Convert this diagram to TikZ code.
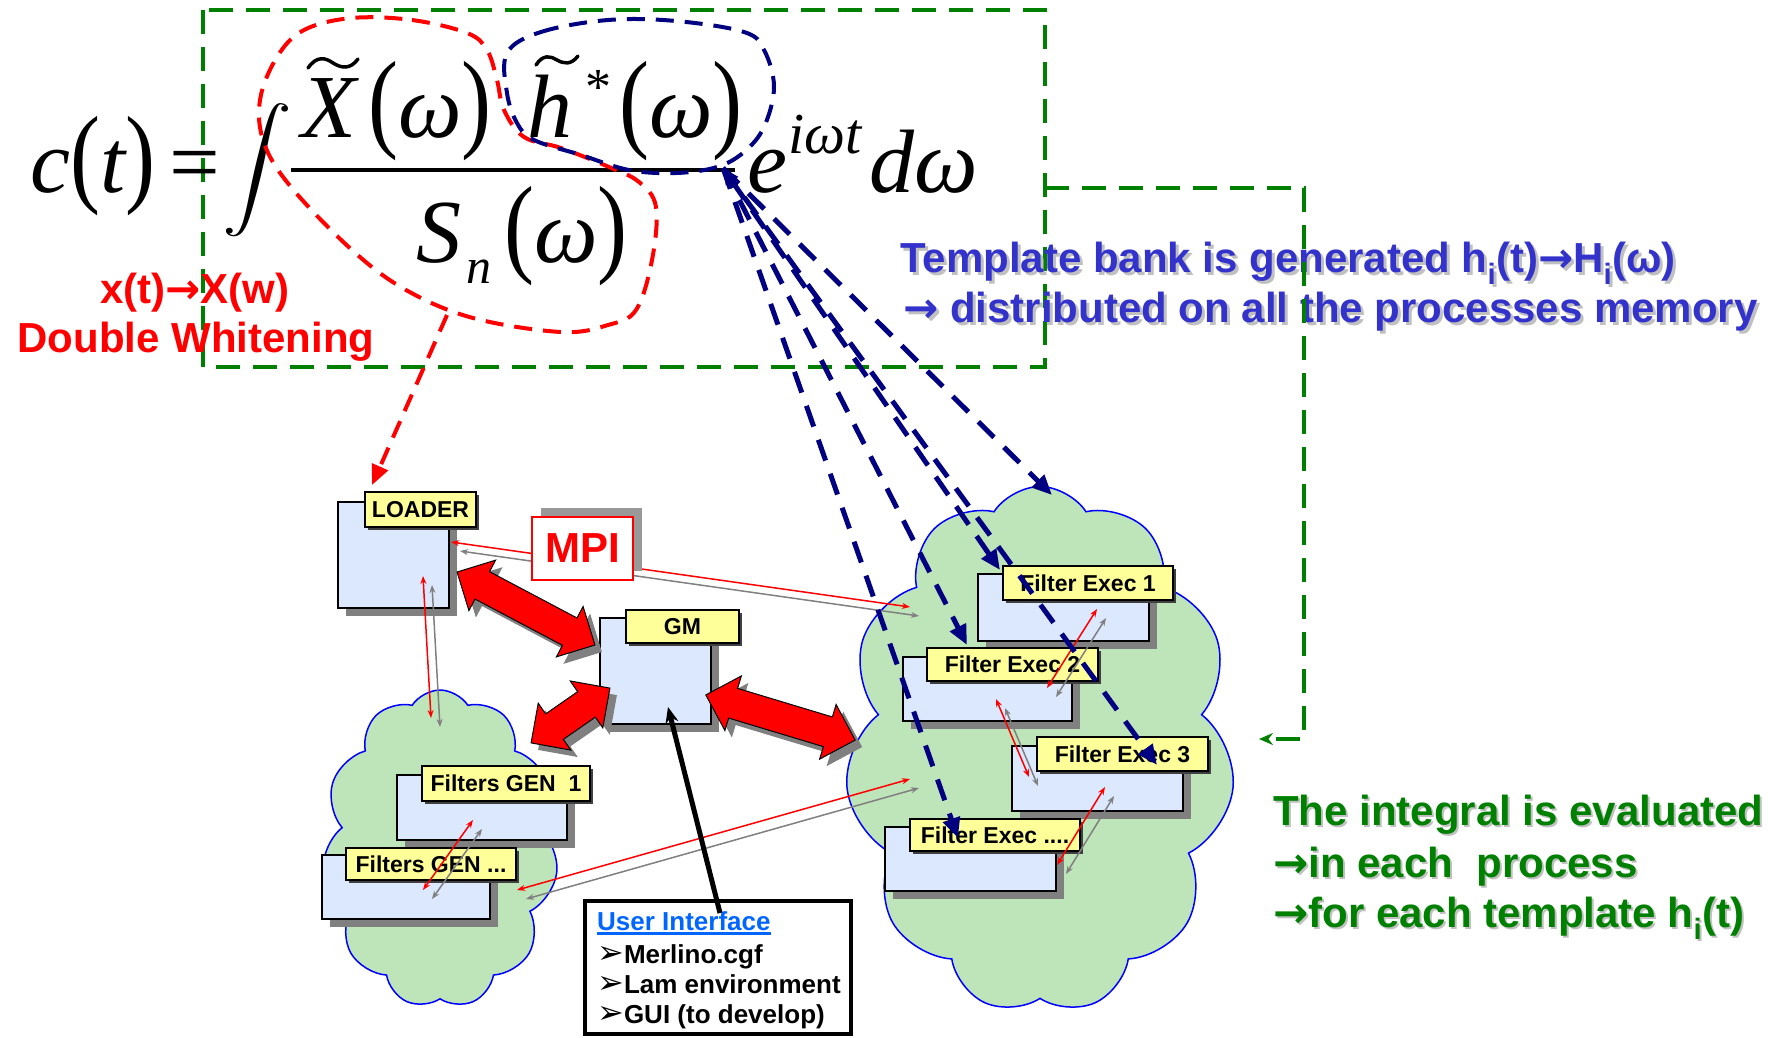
\documentclass[tikz,border=0pt]{standalone}
\usepackage{graphicx}
\usepackage{fontspec}
\setmainfont{Liberation Sans}
\newfontfamily\eqfont{Liberation Serif}
\newfontfamily\dingfont{DejaVu Sans}
\usetikzlibrary{arrows.meta,shapes.symbols,shapes.arrows,shadows}

\definecolor{procblue}{RGB}{219,232,253}
\definecolor{tagyellow}{RGB}{255,255,153}
\definecolor{cloudgreen}{RGB}{190,228,186}
\definecolor{bankblue}{RGB}{0,0,128}
\definecolor{framegreen}{RGB}{0,128,0}
\definecolor{tmplblue}{RGB}{51,51,204}
\definecolor{uiblue}{RGB}{0,102,255}
\definecolor{shgray}{RGB}{128,128,128}
\definecolor{txtshadow}{RGB}{192,192,192}

\newcommand{\lpar}{{\upshape\scalebox{1}[1.22]{(}}}
\newcommand{\rpar}{{\upshape\scalebox{1}[1.22]{)}}}
\newcommand{\thickul}[1]{\vtop{\hbox{#1}\kern2pt\hrule height 2.5pt}}
\newcommand{\rarr}{{\dingfont\bfseries →}}
\newcommand{\uibullet}{{\dingfont\fontsize{32}{30}\selectfont ➢}}

\tikzset{
  eqtext/.style={font=\eqfont\itshape\fontsize{90}{90}\selectfont, inner sep=0pt, anchor=base west},
  bigtext/.style={font=\bfseries\fontsize{42}{48}\selectfont, inner sep=0pt},
  procbox/.style={draw=black, line width=1.2pt, fill=procblue, inner sep=0pt,
    drop shadow={shadow xshift=8pt, shadow yshift=-8pt, fill=shgray, opacity=1}},
  tagbox/.style={draw=black, line width=1.2pt, fill=tagyellow, inner sep=0pt,
    font=\bfseries\fontsize{23}{23}\selectfont,
    drop shadow={shadow xshift=2.5pt, shadow yshift=-2.5pt, fill=black!75, opacity=1}},
  procloud/.style={cloud, cloud puffs=11, cloud puff arc=115, cloud ignores aspect,
    draw=blue, line width=1.5pt, fill=cloudgreen, inner sep=0pt},
  bigarrow/.style={double arrow, draw=black, line width=1pt, fill=red, inner sep=0pt,
    double arrow head extend=13pt,
    drop shadow={shadow xshift=7pt, shadow yshift=-7pt, fill=shgray, opacity=1}},
  msgred/.style={red, line width=1.5pt, {Stealth[length=8pt,width=6pt]}-{Stealth[length=8pt,width=6pt]}},
  msggray/.style={shgray, line width=1.5pt, {Stealth[length=8pt,width=6pt]}-{Stealth[length=8pt,width=6pt]},
    transform canvas={shift={(9,9)}}},
  loopdash/.style={line width=4pt, dash pattern=on 18pt off 11pt},
  bankdash/.style={bankblue, line width=5pt, dash pattern=on 22pt off 14pt,
    -{Triangle[length=20pt,width=17pt]}},
  framedash/.style={framegreen, line width=4pt, dash pattern=on 24pt off 13pt},
  uitext/.style={font=\bfseries\fontsize{26}{30}\selectfont, inner sep=0pt, anchor=base west}
}

\newcommand{\msglink}[2]{%
  \draw[msggray] (#1) -- (#2);
  \draw[msgred] (#1) -- (#2);}

\begin{document}
\begin{tikzpicture}[x=1pt, y=-1pt]
\useasboundingbox[fill=white] (0,0) rectangle (1787,1037);

% Drawing frame round the formula
\draw[framedash] (203,10) rectangle (1045,367);

% Drawing formula
\node[eqtext] (cfun) at (30,192) {c\lpar t\rpar};
\node[eqtext, font=\eqfont\fontsize{90}{90}\selectfont] (eqsign) at (169,192) {=};
\node[inner sep=0pt] (intsign) at (257,170) {\scalebox{7}[6]{$\displaystyle\int$}};
\node[eqtext] (xsig) at (301,137) {X};
\node[eqtext] (xarg) at (368,137) {\lpar ω\rpar};
\node[eqtext] (hsig) at (527,137) {h};
\node[eqtext, font=\eqfont\fontsize{52}{52}\selectfont, anchor=base] (hstar) at (598,104) {*};
\node[eqtext] (harg) at (619,137) {\lpar ω\rpar};
\node[eqtext] (snoise) at (416,262) {S};
\node[eqtext, font=\eqfont\itshape\fontsize{50}{50}\selectfont] (sidx) at (466,283) {n};
\node[eqtext] (sarg) at (504,262) {\lpar ω\rpar};
\node[eqtext] (expo) at (747,192) {e};
\node[eqtext, font=\eqfont\itshape\fontsize{58}{58}\selectfont] (expidx) at (788,153) {iωt};
\node[eqtext] (dmeas) at (869,192) {dω};
\draw[line width=3.3pt] (291,170) -- (735,170);
\draw[line width=3.5pt, line cap=round] (308,68) .. controls (317,55) and (326,58) .. (333,63)
  .. controls (341,68) and (350,70) .. (358,59);
\draw[line width=3.5pt, line cap=round] (536,65) .. controls (543,54) and (551,56) .. (557,60)
  .. controls (564,64) and (571,65) .. (578,56);

% Drawing dashed loops
\draw[red, loopdash] plot[smooth cycle, tension=0.6] coordinates {(352,18) (412,20) (467,33)
  (487,50) (497,80) (504,110) (524,137) (561,148) (609,167) (639,182) (656,207) (652,260)
  (636,310) (608,325) (561,332) (473,318) (406,290) (352,250) (291,187) (264,143) (260,100)
  (277,57) (304,30)};
\draw[bankblue, loopdash] plot[smooth cycle, tension=0.6] coordinates {(507,53) (541,32)
  (608,20) (676,21) (744,32) (764,50) (774,87) (764,127) (744,152) (717,167) (676,173)
  (629,170) (581,155) (534,140) (517,123) (507,93)};

% Drawing captions
\node[bigtext, text=red, anchor=base] (whitenA) at (195,303) {x(t)\rarr X(w)};
\node[bigtext, text=red, anchor=base] (whitenB) at (196,352) {Double Whitening};
\node[bigtext, text=txtshadow, anchor=base west] (tmplAsh) at (903,275)
  {Template bank is generated h\textsubscript{i}(t)\rarr H\textsubscript{i}(ω)};
\node[bigtext, text=tmplblue, anchor=base west] (tmplA) at (900,272)
  {Template bank is generated h\textsubscript{i}(t)\rarr H\textsubscript{i}(ω)};
\node[bigtext, text=txtshadow, anchor=base west] (tmplBsh) at (906,325)
  {\rarr{} distributed on all the processes memory};
\node[bigtext, text=tmplblue, anchor=base west] (tmplB) at (903,322)
  {\rarr{} distributed on all the processes memory};
\node[bigtext, text=txtshadow, anchor=base west] (evalAsh) at (1275,827) {The integral is evaluated};
\node[bigtext, text=framegreen, anchor=base west] (evalA) at (1273,825) {The integral is evaluated};
\node[bigtext, text=txtshadow, anchor=base west] (evalBsh) at (1275,879) {\rarr in each~~process};
\node[bigtext, text=framegreen, anchor=base west] (evalB) at (1273,877) {\rarr in each~~process};
\node[bigtext, text=txtshadow, anchor=base west] (evalCsh) at (1275,929)
  {\rarr for each template h\textsubscript{i}(t)};
\node[bigtext, text=framegreen, anchor=base west] (evalC) at (1273,927)
  {\rarr for each template h\textsubscript{i}(t)};

% Drawing clouds
\node[procloud, minimum width=236pt, minimum height=318pt] (gencloud) at (440,849) {};
\node[procloud, minimum width=390pt, minimum height=527pt] (execcloud) at (1040,750) {};

% Drawing processes
\node[procbox, minimum width=111pt, minimum height=106pt] (loader) at (393.5,555) {};
\node[tagbox, minimum width=111pt, minimum height=35pt] (loadertag) at (420.5,509.5) {LOADER};
\node[procbox, minimum width=111pt, minimum height=106pt] (gm) at (655.5,671) {};
\node[tagbox, minimum width=113pt, minimum height=33pt] (gmtag) at (682.5,626.5) {GM};
\node[procbox, minimum width=170pt, minimum height=65pt] (genA) at (482,807.5) {};
\node[tagbox, minimum width=168pt, minimum height=35pt] (genAtag) at (506,783.5) {Filters GEN~~1};
\node[procbox, minimum width=168pt, minimum height=64pt] (genN) at (406,887) {};
\node[tagbox, minimum width=170pt, minimum height=32pt] (genNtag) at (431,864) {Filters GEN ...};
\node[procbox, minimum width=171pt, minimum height=67pt] (execA) at (1063.5,607.5) {};
\node[tagbox, minimum width=170pt, minimum height=34pt] (execAtag) at (1088,583) {Filter Exec 1};
\node[procbox, minimum width=169pt, minimum height=64pt] (execB) at (987.5,689) {};
\node[tagbox, minimum width=171pt, minimum height=33pt] (execBtag) at (1012.5,664.5) {Filter Exec 2};
\node[procbox, minimum width=171pt, minimum height=65pt] (execC) at (1097.5,778.5) {};
\node[tagbox, minimum width=171pt, minimum height=34pt] (execCtag) at (1122.5,754) {Filter Exec 3};
\node[procbox, minimum width=171pt, minimum height=64pt] (execN) at (970.5,859) {};
\node[tagbox, minimum width=170pt, minimum height=32pt] (execNtag) at (995,835) {Filter Exec ....};

% Drawing MPI links
\node[bigarrow, minimum height=156pt, rotate=-27.9] (loadergm) at (526,608.5) {\rule{0pt}{30pt}};
\node[bigarrow, minimum height=96pt, rotate=34.8] (gengm) at (570.5,715.5) {\rule{0pt}{30pt}};
\node[bigarrow, minimum height=156pt, rotate=-16.8] (execgm) at (780.5,717.5) {\rule{0pt}{30pt}};

\coordinate (ldout) at (423,576);  \coordinate (genin) at (431,718);
\coordinate (genAout) at (473,820); \coordinate (genNin) at (423,890);
\coordinate (genout) at (517,890); \coordinate (execinB) at (910,779);
\coordinate (ldside) at (451,542); \coordinate (execinA) at (910,607);
\coordinate (exAout) at (1097,609); \coordinate (exBin) at (1047,688);
\coordinate (exBout) at (996,699); \coordinate (exCin) at (1029,777);
\coordinate (exCout) at (1105,787); \coordinate (exNin) at (1057,865);
\msglink{ldout}{genin}
\msglink{genAout}{genNin}
\msglink{genout}{execinB}
\msglink{ldside}{execinA}
\msglink{exAout}{exBin}
\msglink{exBout}{exCin}
\msglink{exCout}{exNin}

\node[draw=red, line width=2.5pt, fill=white, text=red, minimum width=101pt, minimum height=63pt,
  font=\bfseries\fontsize{42}{42}\selectfont, inner sep=0pt,
  drop shadow={shadow xshift=9pt, shadow yshift=9pt, fill=shgray!80, opacity=1}] (mpi) at (582.5,548.5) {MPI};

% Drawing user interface
\node[draw=black, line width=3.5pt, fill=white, minimum width=266pt, minimum height=133pt,
  inner sep=0pt] (uibox) at (718,967.5) {};
\node[uitext, text=uiblue] (uihead) at (597,930) {\thickul{User Interface}};
\node[uitext] (uiitemA) at (597,963) {\uibullet Merlino.cgf};
\node[uitext] (uiitemB) at (597,993) {\uibullet Lam environment};
\node[uitext] (uiitemC) at (597,1023) {\uibullet GUI (to develop)};
\coordinate (uitail) at (720,913);
\coordinate (gmin) at (668,707);
\draw[line width=5pt, -{Stealth[length=16pt,width=13pt]}] (uitail) -- (gmin);

% Drawing red dashed arrow and green feedback
\coordinate (wtail) at (447,315);
\coordinate (loadin) at (372,485);
\draw[red, loopdash, -{Triangle[length=20pt,width=17pt]}] (wtail) -- (loadin);
\coordinate (frameout) at (1045,188);
\coordinate (cloudin) at (1259,739);
\draw[framedash, -{Stealth[length=14pt,width=12pt]}] (frameout) -- ++(259,0) |- (cloudin);

% Drawing template distribution
\coordinate (fan) at (723,168);
\coordinate (fanA) at (1052,495);
\coordinate (fanB) at (1157,765);
\coordinate (fanC) at (1000,570);
\coordinate (fanD) at (967,645);
\coordinate (fanE) at (958,838);
\foreach \t in {fanA,fanB,fanD,fanE}
  \draw[bankdash] (fan) -- (\t);
\draw[bankdash, {Triangle[length=16pt,width=14pt]}-{Triangle[length=20pt,width=17pt]}] (fan) -- (fanC);
\end{tikzpicture}
\end{document}
